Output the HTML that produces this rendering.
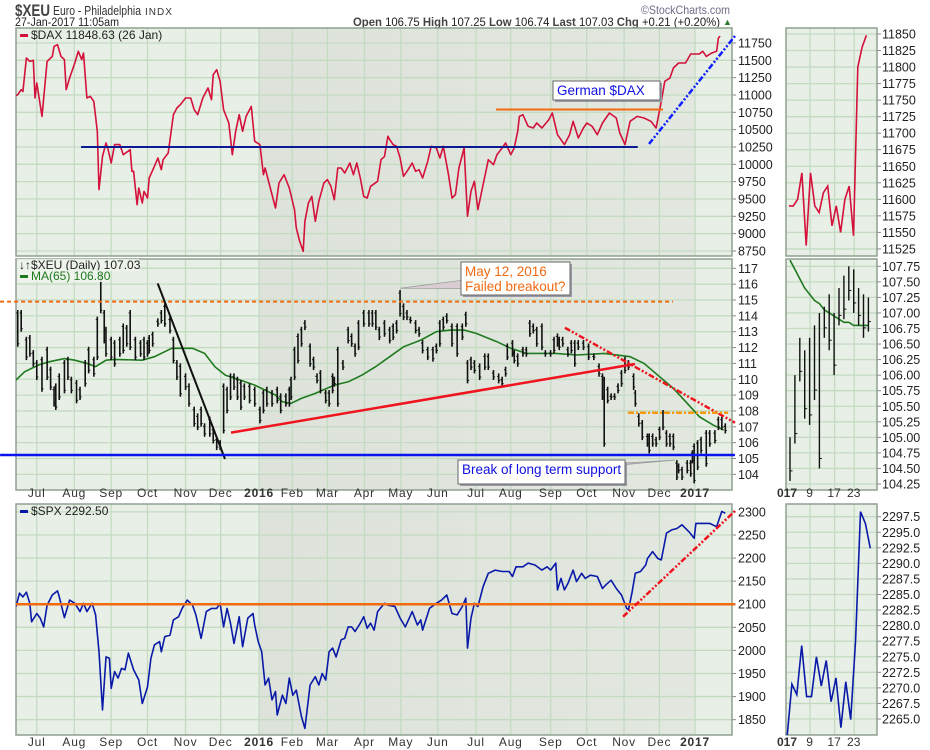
<!DOCTYPE html>
<html><head><meta charset="utf-8"><style>
html,body{margin:0;padding:0;background:#fff;}
svg{display:block;font-family:"Liberation Sans","DejaVu Sans",sans-serif;}
</style></head><body>
<svg id="chart" width="930" height="750" viewBox="0 0 930 750" xmlns="http://www.w3.org/2000/svg">
<defs>
<linearGradient id="shade2016" x1="0" x2="1" y1="0" y2="0"><stop offset="0" stop-color="#dde3db"/><stop offset="1" stop-color="#e2e8e0"/></linearGradient>
<clipPath id="clipTop"><rect x="16" y="28" width="716" height="228"/></clipPath>
<clipPath id="clipMid"><rect x="16" y="259" width="716" height="231"/></clipPath>
<clipPath id="clipBot"><rect x="16" y="504" width="716" height="231"/></clipPath>
<clipPath id="clipRTop"><rect x="786" y="28" width="91" height="228"/></clipPath>
<clipPath id="clipRMid"><rect x="786" y="259" width="91" height="231"/></clipPath>
<clipPath id="clipRBot"><rect x="786" y="504" width="91" height="231"/></clipPath>
</defs>
<g>
<text x="15" y="16" font-size="17" font-weight="bold" fill="#444" textLength="35" lengthAdjust="spacingAndGlyphs">$XEU</text>
<text x="53" y="15" font-size="12.5" fill="#333" textLength="88" lengthAdjust="spacingAndGlyphs">Euro - Philadelphia</text>
<text x="145" y="15" font-size="10" fill="#333" letter-spacing="1">INDX</text>
<text x="15" y="26" font-size="11.5" fill="#222" textLength="104" lengthAdjust="spacingAndGlyphs">27-Jan-2017 11:05am</text>
<text x="641" y="14" font-size="12" fill="#6f6f8a" textLength="89" lengthAdjust="spacingAndGlyphs">©StockCharts.com</text>
<text x="353" y="26" font-size="12" fill="#222" textLength="367" lengthAdjust="spacingAndGlyphs"><tspan font-weight="bold" fill="#444">Open</tspan> 106.75 <tspan font-weight="bold" fill="#444">High</tspan> 107.25 <tspan font-weight="bold" fill="#444">Low</tspan> 106.74 <tspan font-weight="bold" fill="#444">Last</tspan> 107.03 <tspan font-weight="bold" fill="#444">Chg</tspan> +0.21 (+0.20%)</text>
<text x="723" y="25" font-size="9" fill="#2a7a2a">▲</text>
</g>
<g id="layer"></g>
</svg>
<script>
// ---------- DATA ----------
const monthLabels = ["Jul","Aug","Sep","Oct","Nov","Dec","2016","Feb","Mar","Apr","May","Jun","Jul","Aug","Sep","Oct","Nov","Dec","2017"];
const monthDays = [12,33.7,55,76,98,118.3,140.5,159.7,180,201.4,222.4,243.8,265.9,286,309.1,329.9,351.5,371.9,392.5];

const daxTicks = [11750,11500,11250,11000,10750,10500,10250,10000,9750,9500,9250,9000,8750];
const xeuTicks = [117,116,115,114,113,112,111,110,109,108,107,106,105,104];
const spxTicks = [2300,2250,2200,2150,2100,2050,2000,1950,1900,1850];

const daxDay = [0,1,3,4,6,8,10,11,12,15,18,21,22,24,26,28,29,31,34,36,38,39,41,43,45,47,48,50,52,53,55,57,60,62,66,67,68,70,71,73,74,76,77,80,82,84,85,88,91,93,95,98,101,103,105,108,111,113,114,116,118,120,123,125,127,129,131,133,136,138,141,143,144,147,150,152,155,158,161,162,164,166,167,169,171,173,175,178,180,182,184,186,188,190,193,195,197,199,201,203,205,209,211,213,215,216,218,220,222,224,226,229,231,233,235,238,240,243,245,247,250,252,254,256,259,261,263,265,267,270,272,273,276,278,281,283,286,288,290,291,293,296,299,301,304,308,310,313,317,320,322,325,328,330,333,336,339,343,347,349,352,355,359,363,367,370,373,375,378,380,383,387,390,395,397,399,402,405,406,407];
const daxVal = [10990,11005,11077,11050,11533,11485,11500,10957,11173,10692,11485,11557,11702,11726,11557,11510,11077,11245,11461,11630,11510,11605,10957,10980,10908,10476,9635,10115,10308,10236,10019,10284,10284,10139,10211,9899,9899,9418,9659,9442,9610,9514,9803,9971,10091,9923,10067,10163,10716,10812,10860,10957,10957,10788,10716,10957,11101,10932,11293,11365,11197,10788,10596,10139,10476,10716,10476,10692,10836,10332,10284,9851,9947,9659,9370,9731,9851,9659,9346,9082,8889,8745,9178,9442,9538,9178,9466,9731,9779,9683,9490,9947,9947,9875,10019,9851,10019,9803,9538,9514,9683,9755,10067,10115,10404,10356,10284,10260,10091,9827,9899,10019,9899,9923,9803,10043,10260,10236,10091,10260,9851,9514,9562,9947,10236,9250,9611,9755,9346,9707,9947,10067,9995,10139,10236,10308,10139,10236,10476,10692,10716,10548,10524,10596,10524,10644,10740,10428,10284,10428,10620,10380,10524,10596,10548,10428,10596,10740,10668,10452,10284,10620,10692,10668,10620,10524,10908,11197,11245,11389,11461,11461,11591,11591,11630,11557,11605,11630,11822,11849];

const xeuDay = [1,3,6,8,10,12,15,18,20,22,23,25,28,30,32,35,37,40,42,45,47,49,51,52,55,57,60,62,64,66,69,72,74,76,77,79,82,84,86,89,91,93,95,98,100,103,105,107,109,112,114,116,118,120,122,124,126,128,130,132,135,138,141,143,145,148,151,153,156,158,159,161,163,165,167,170,172,174,176,179,181,183,184,186,189,192,194,196,198,201,204,206,208,210,213,216,218,220,222,224,226,228,231,233,235,238,241,243,245,247,249,252,255,258,260,261,263,265,268,271,273,276,279,281,283,284,287,288,290,293,295,297,299,301,304,306,309,311,313,314,316,319,321,323,325,328,331,334,337,339,340,342,344,346,348,350,352,354,357,358,360,362,365,366,368,370,372,374,376,378,380,382,383,385,388,390,391,392,394,396,399,401,404,406,408,410];
const xeuHigh = [114.37,114.37,112.68,112.79,111.84,111.21,111.42,112.05,110.79,109.53,109.74,110.37,111.21,111.42,110.16,109.95,109.53,111.21,112.05,111.42,113.95,116.78,114.37,113.31,112.68,112.47,112.68,113.52,113.42,114.37,112.68,112.47,112.68,112.47,112.79,113.00,113.84,114.37,114.79,113.95,112.68,111.21,111.00,110.37,109.74,108.27,107.85,108.27,107.22,107.64,107.01,106.37,106.16,109.74,109.53,110.37,110.37,110.16,109.95,109.74,109.74,109.53,108.27,109.32,109.53,109.32,109.53,109.11,109.11,109.53,110.16,112.05,112.89,113.31,113.73,112.26,111.42,110.37,110.58,109.32,109.32,110.37,110.16,112.05,111.21,113.31,112.89,112.26,113.73,114.37,114.37,114.37,114.37,113.31,113.73,113.31,113.52,113.73,115.63,114.79,114.37,113.95,113.73,113.31,112.47,112.05,112.05,112.26,113.73,113.95,114.16,113.52,113.52,113.52,114.26,111.21,111.42,111.21,111.00,111.63,111.63,110.58,110.37,110.16,110.79,112.26,112.47,111.84,111.63,112.05,112.05,113.73,113.52,113.31,113.52,111.84,111.84,112.68,112.89,112.68,112.68,112.05,112.47,112.47,112.47,112.47,112.26,111.63,111.00,110.37,110.16,109.53,109.11,109.11,109.74,110.58,111.42,111.21,110.37,109.32,107.85,107.43,106.58,106.58,106.58,106.37,107.01,108.06,106.79,106.58,106.58,104.90,104.69,104.48,104.90,104.90,105.53,105.95,106.16,106.37,106.79,106.79,106.79,107.64,107.64,107.22];
const xeuLow = [112.05,113.00,111.21,111.42,110.79,109.95,109.21,109.95,109.32,108.27,108.06,108.69,109.11,109.95,109.11,108.48,108.69,109.53,110.37,110.16,111.21,114.16,112.26,111.42,111.21,110.79,111.42,111.63,112.05,111.84,111.21,111.42,111.21,111.42,111.63,112.05,113.31,113.52,113.31,112.89,111.00,109.95,108.90,109.32,108.27,107.01,106.79,107.01,106.37,106.37,105.95,105.53,105.53,106.58,107.85,108.69,109.32,108.69,108.06,108.69,108.48,108.27,107.22,107.85,108.27,108.27,108.48,107.85,108.27,108.27,108.69,109.95,111.00,112.05,113.10,110.79,110.58,109.74,109.11,108.48,108.27,109.11,109.53,108.27,110.58,112.26,112.05,111.42,111.84,113.31,113.31,113.31,113.10,112.47,112.68,112.26,112.47,112.89,113.95,113.73,113.73,113.52,112.89,112.68,111.63,111.21,111.11,111.63,112.05,113.10,113.52,112.05,111.42,112.47,113.31,109.74,110.58,110.37,109.95,110.58,110.58,109.95,109.74,109.53,110.16,111.21,111.42,111.00,110.79,111.42,111.42,112.68,112.89,112.05,111.84,111.42,111.42,111.63,112.05,111.84,112.05,111.42,111.63,110.79,111.84,111.84,111.21,111.21,110.16,108.69,105.74,108.48,108.69,108.69,109.11,109.53,110.37,110.58,109.32,108.27,107.01,106.16,105.74,105.32,105.74,105.74,106.16,106.79,105.74,105.74,105.53,103.64,104.06,103.64,104.06,103.85,104.69,103.43,104.27,105.32,104.48,105.74,105.95,106.79,106.79,106.58];

const maDay = [0,5,13,19,28,34,41,46,52,57,73,80,86,90,102,109,115,121,127,138,150,154,159,165,173,184,192,200,208,216,224,234,243,251,259,266,278,286,295,312,324,340,355,363,372,380,388,395,403,409];
const maVal = [109.95,110.47,110.9,111.1,111.3,111.2,111.0,110.8,111.2,111.25,111.2,111.42,111.74,111.95,111.95,111.63,110.79,110.26,110.05,109.63,109.0,108.58,108.48,108.79,109.11,109.63,109.84,110.26,110.8,111.42,112.05,112.47,113.0,113.1,113.1,112.89,112.37,111.95,111.63,111.63,111.53,111.63,111.42,111.0,110.16,109.42,108.48,107.64,107.11,106.8];

const spxDay = [0,2,4,6,8,9,12,14,16,18,21,24,25,28,31,34,37,39,41,44,46,48,50,52,54,55,57,59,61,63,65,68,71,73,76,78,80,83,84,86,89,91,94,96,99,102,104,107,110,113,116,118,120,122,124,126,129,131,134,137,138,140,142,144,146,148,150,151,154,156,158,160,162,165,167,170,173,175,177,179,181,183,185,188,190,192,194,196,199,201,203,205,207,209,213,215,219,222,225,229,232,234,235,239,243,246,249,252,255,258,260,261,263,265,267,270,273,277,281,285,287,289,293,296,300,304,307,309,312,313,315,317,319,322,324,327,329,332,336,339,341,344,347,350,353,354,356,358,361,364,365,368,371,373,376,379,382,385,389,392,393,397,401,405,408,410];
const spxVal = [2095,2124,2116,2126,2102,2062,2080,2070,2051,2098,2120,2129,2116,2071,2109,2102,2084,2102,2084,2102,2077,1997,1871,1986,1983,1918,1954,1940,1961,1958,1994,1958,1936,1885,1921,1983,2012,2019,1997,2030,2033,2066,2073,2091,2109,2098,2077,2026,2084,2091,2091,2102,2051,2091,2059,2015,2073,2008,2070,2080,2055,2019,1997,1925,1940,1893,1911,1860,1903,1885,1940,1903,1914,1857,1831,1925,1943,1925,1950,1936,1997,2005,1986,2023,2026,2051,2051,2041,2059,2073,2048,2059,2044,2084,2102,2098,2095,2070,2051,2084,2055,2066,2044,2091,2102,2109,2120,2080,2077,2095,2113,2005,2070,2102,2095,2138,2167,2174,2171,2171,2160,2181,2181,2189,2185,2174,2181,2174,2189,2131,2156,2131,2145,2174,2149,2167,2156,2163,2160,2134,2142,2152,2134,2120,2091,2088,2124,2167,2171,2185,2199,2214,2199,2196,2254,2261,2264,2272,2257,2243,2275,2275,2275,2268,2301,2297];

// right-side (January 2017 zoom) panels
const janLabels = ["017","9","17","23"];
const janLabelIdx = [0,4,9,13];
const rDaxTicks = [11850,11825,11800,11775,11750,11725,11700,11675,11650,11625,11600,11575,11550,11525];
const rXeuTicks = [107.75,107.5,107.25,107,106.75,106.5,106.25,106,105.75,105.5,105.25,105,104.75,104.5,104.25];
const rSpxTicks = [2297.5,2295,2292.5,2290,2287.5,2285,2282.5,2280,2277.5,2275,2272.5,2270,2267.5,2265];
const rDaxVal = [11590,11590,11600,11640,11530,11640,11590,11580,11610,11620,11560,11590,11550,11600,11620,11545,11800,11830,11848];
const rXeuHigh = [105.0,106.0,106.6,106.4,106.6,106.8,107.0,107.1,107.3,107.0,107.4,107.6,107.75,107.7,107.4,107.3,107.25];
const rXeuLow = [104.3,104.9,105.9,105.3,105.2,105.6,104.5,106.6,106.4,106.0,106.8,106.9,107.2,107.0,106.8,106.6,106.7];
const rMaVal = [107.85,107.7,107.55,107.4,107.3,107.2,107.15,107.05,107.0,106.95,106.9,106.85,106.85,106.8,106.8,106.8,106.8];
const rSpxVal = [2262,2270.6,2268.9,2276.8,2268.6,2268.6,2275.0,2270.3,2274.4,2267.8,2271.6,2263.6,2271.0,2264.9,2277.7,2298.3,2296.4,2292.4];

// annotations in data coordinates [day, value]
const daxSupport = [[37.6,10250],[359.4,10250]];
const daxResist = [[277.5,10790],[374,10790]];
const daxTrend = [[365.9,10294],[415.6,11851]];
const xeuBreakoutLevel = [[-9.2,114.9],[379.8,114.9]];
const xeuDownTrend = [[81.9,116.05],[120.8,104.97]];
const xeuUpTrend = [[124.3,106.63],[357.8,110.96]];
const xeuRecentTrend = [[317.3,113.25],[415.6,107.26]];
const xeuResist = [[353.8,107.89],[411.6,107.89]];
const xeuSupport = [[-9.2,105.22],[415.6,105.22]];
const spxLevel = [[0,2100],[415.6,2100]];
const spxTrend = [[350.9,2073],[415.6,2302]];

// ---------- SCALES ----------
const X0 = 16, X1 = 732;
const xDay = d => X0 + d * 1.73;
const yDax = v => 43 + (11750 - v) * 0.06933;
const yXeu = v => 268.3 + (117 - v) * 15.85;
const ySpx = v => 511.9 + (2300 - v) * 0.4617;
const xRD = i => 789 + i * 4.3;
const xRX = i => 790 + i * 4.9;
const xRS = i => 787 + i * 4.9;
const yRDax = v => 34 + (11850 - v) * 0.6613;
const yRXeu = v => 390.7 + (105.75 - v) * 62.2;
const yRSpx = v => 516.7 + (2297.5 - v) * 6.225;

const NS = "http://www.w3.org/2000/svg";
const layer = document.getElementById("layer");
function mk(tag, attrs, parent) {
  const el = document.createElementNS(NS, tag);
  for (const k in attrs) el.setAttribute(k, attrs[k]);
  (parent || layer).appendChild(el);
  return el;
}

// ---------- PANELS ----------
const panels = [
  {name:"dax-panel", y:28, h:228, ticks:daxTicks, ys:yDax, fmt:v=>String(v)},
  {name:"xeu-panel", y:259, h:231, ticks:xeuTicks, ys:yXeu, fmt:v=>String(v)},
  {name:"spx-panel", y:504, h:231, ticks:spxTicks, ys:ySpx, fmt:v=>String(v)}
];
panels.forEach(p => {
  const g = mk("g", {});
  
  
  mk("rect", {x:X0, y:p.y, width:X1-X0, height:p.h, fill:"#e8efe6"}, g);
  mk("rect", {x:xDay(140.5), y:p.y, width:xDay(392.5)-xDay(140.5), height:p.h, fill:"url(#shade2016)"}, g);
  monthDays.forEach(d => mk("line", {x1:xDay(d), x2:xDay(d), y1:p.y, y2:p.y+p.h, stroke:"#c4dbc2", "stroke-width":1.3}, g));
  p.ticks.forEach(t => {
    const y = p.ys(t);
    mk("line", {x1:X0, x2:X1, y1:y, y2:y, stroke:"#c4dbc2", "stroke-width":1.3}, g);
    mk("line", {x1:X1, x2:X1+4, y1:y, y2:y, stroke:"#888", "stroke-width":1}, g);
    const tx = mk("text", {x:X1+6, y:y+4.5, "font-size":12.5, fill:"#222"}, g);
    
    
    tx.textContent = p.fmt(t);
  });
  mk("rect", {x:X0, y:p.y, width:X1-X0, height:p.h, fill:"none", stroke:"#8fa08f", "stroke-width":1.5}, g);
});

// right panels
const rpanels = [
  {name:"dax-jan-panel", y:28, h:228, ticks:rDaxTicks, ys:yRDax, fmt:v=>String(v)},
  {name:"xeu-jan-panel", y:259, h:231, ticks:rXeuTicks, ys:yRXeu, fmt:v=>v.toFixed(2)},
  {name:"spx-jan-panel", y:504, h:231, ticks:rSpxTicks, ys:yRSpx, fmt:v=>v.toFixed(1)}
];
const RX0 = 786, RX1 = 877;
rpanels.forEach(p => {
  const g = mk("g", {});
  
  
  mk("rect", {x:RX0, y:p.y, width:RX1-RX0, height:p.h, fill:"#e8efe6"}, g);
  janLabelIdx.slice(1).forEach(i => mk("line", {x1:xRX(i)+0.5, x2:xRX(i)+0.5, y1:p.y, y2:p.y+p.h, stroke:"#c4dbc2", "stroke-width":1.3}, g));
  p.ticks.forEach(t => {
    const y = p.ys(t);
    mk("line", {x1:RX0, x2:RX1, y1:y, y2:y, stroke:"#c4dbc2", "stroke-width":1.3}, g);
    mk("line", {x1:RX1, x2:RX1+4, y1:y, y2:y, stroke:"#888"}, g);
    const tx = mk("text", {x:RX1+5, y:y+4.5, "font-size":12.5, fill:"#222"}, g);
    
    
    tx.textContent = p.fmt(t);
  });
  mk("rect", {x:RX0, y:p.y, width:RX1-RX0, height:p.h, fill:"none", stroke:"#8fa08f", "stroke-width":1.5}, g);
});

// x-axis labels
[497, 746].forEach(yy => {
  monthLabels.forEach((m, i) => {
    const t = mk("text", {x:xDay(monthDays[i]), y:yy, "font-size":12, "text-anchor":"middle", fill:"#333", "letter-spacing":"0.8", "font-weight": m.length===4 ? "bold" : "normal"});
    
    
    t.textContent = m;
  });
  janLabels.forEach((m, i) => {
    const t = mk("text", {x:i===0 ? 777 : xRX(janLabelIdx[i]), y:yy, "font-size":12, "text-anchor": i===0 ? "start" : "middle", fill:"#333", "font-weight": i===0 ? "bold" : "normal"});
    
    
    t.textContent = m;
  });
});

// ---------- SERIES ----------
function pathFrom(days, vals, xs, ys) {
  return days.map((d, i) => (i ? "L" : "M") + xs(d).toFixed(1) + "," + ys(vals[i]).toFixed(1)).join("");
}
const gTop = mk("g", {"clip-path":"url(#clipTop)"});
const daxLine = mk("path", {d:pathFrom(daxDay, daxVal, xDay, yDax), fill:"none", stroke:"#d4113a", "stroke-width":1.6, "stroke-linejoin":"round"}, gTop);



const gMid = mk("g", {"clip-path":"url(#clipMid)"});
const maLine = mk("path", {d:pathFrom(maDay, maVal, xDay, yXeu), fill:"none", stroke:"#1f7a1f", "stroke-width":1.6}, gMid);


xeuDay.forEach((d, i) => {
  const x = xDay(d);
  const b = mk("line", {x1:x, x2:x, y1:yXeu(xeuHigh[i]), y2:yXeu(xeuLow[i]), stroke:"#111", "stroke-width":1.6}, gMid);
  
  
  mk("line", {x1:x-1.6, x2:x, y1:yXeu(xeuHigh[i])+3, y2:yXeu(xeuHigh[i])+3, stroke:"#111", "stroke-width":1}, gMid);
  mk("line", {x1:x, x2:x+1.6, y1:yXeu(xeuLow[i])-3, y2:yXeu(xeuLow[i])-3, stroke:"#111", "stroke-width":1}, gMid);
});

const gBot = mk("g", {"clip-path":"url(#clipBot)"});
const spxLine = mk("path", {d:pathFrom(spxDay, spxVal, xDay, ySpx), fill:"none", stroke:"#0a1aa8", "stroke-width":1.6, "stroke-linejoin":"round"}, gBot);



// right panel series
const idx = a => a.map((_, i) => i);
const gRT = mk("g", {"clip-path":"url(#clipRTop)"});
const rdl = mk("path", {d:pathFrom(idx(rDaxVal), rDaxVal, xRD, yRDax), fill:"none", stroke:"#d4113a", "stroke-width":1.6}, gRT);


const gRM = mk("g", {"clip-path":"url(#clipRMid)"});
const rml = mk("path", {d:pathFrom(idx(rMaVal), rMaVal, xRX, yRXeu), fill:"none", stroke:"#1f7a1f", "stroke-width":1.6}, gRM);


rXeuHigh.forEach((h, i) => {
  const x = xRX(i);
  const b = mk("line", {x1:x, x2:x, y1:yRXeu(h), y2:yRXeu(rXeuLow[i]), stroke:"#111", "stroke-width":1.4}, gRM);
  
  
  mk("line", {x1:x, x2:x+2.5, y1:yRXeu(rXeuLow[i])-10, y2:yRXeu(rXeuLow[i])-10, stroke:"#111", "stroke-width":1}, gRM);
});
const gRB = mk("g", {"clip-path":"url(#clipRBot)"});
const rsl = mk("path", {d:pathFrom(idx(rSpxVal), rSpxVal, xRS, yRSpx), fill:"none", stroke:"#0a1aa8", "stroke-width":1.6}, gRB);



// ---------- ANNOTATIONS ----------
function seg(pts, ys, attrs, name) {
  const l = mk("line", Object.assign({x1:xDay(pts[0][0]), y1:ys(pts[0][1]), x2:xDay(pts[1][0]), y2:ys(pts[1][1])}, attrs));
  
  
}
seg(daxSupport, yDax, {stroke:"#0a1a90", "stroke-width":2}, "dax-support-line");
seg(daxResist, yDax, {stroke:"#f26a10", "stroke-width":2}, "dax-resistance-line");
seg(daxTrend, yDax, {stroke:"#1020ff", "stroke-width":2.5, "stroke-dasharray":"6,2,2,2,2,2"}, "dax-trend-line");
seg(xeuBreakoutLevel, yXeu, {stroke:"#f26a10", "stroke-width":2, "stroke-dasharray":"4,3"}, "xeu-breakout-level");
seg(xeuDownTrend, yXeu, {stroke:"#111", "stroke-width":2}, "xeu-downtrend-line");
seg(xeuUpTrend, yXeu, {stroke:"#f0141e", "stroke-width":2.5}, "xeu-uptrend-line");
seg(xeuRecentTrend, yXeu, {stroke:"#f0141e", "stroke-width":2.5, "stroke-dasharray":"6,2,2,2,2,2"}, "xeu-recent-trend-line");
seg(xeuResist, yXeu, {stroke:"#f59a10", "stroke-width":2.5, "stroke-dasharray":"6,2,2,2"}, "xeu-resistance-line");
seg(xeuSupport, yXeu, {stroke:"#0a14f0", "stroke-width":2.5}, "xeu-support-line");
seg(spxLevel, ySpx, {stroke:"#f26a10", "stroke-width":2.5}, "spx-level-line");
seg(spxTrend, ySpx, {stroke:"#f0141e", "stroke-width":2.5, "stroke-dasharray":"6,2,2,2,2,2"}, "spx-trend-line");

// callouts
function callout(name, bx, by, bw, bh, ax, ay, lines, color) {
  const g = mk("g", {});
  
  
  if (ax !== null) mk("polygon", {points:`${bx+2},${by+bh*0.55} ${bx+2},${by+bh*0.8} ${ax},${ay}`, fill:"#d9ccd2", stroke:"#999", "stroke-width":0.8}, g);
  mk("rect", {x:bx+2, y:by+2, width:bw, height:bh, fill:"#9a9aa6"}, g);
  mk("rect", {x:bx, y:by, width:bw, height:bh, fill:"#fff", stroke:"#666", "stroke-width":1}, g);
  lines.forEach((t, i) => {
    const tx = mk("text", {x:bx+4, y:by+14 + i*15, "font-size":13.5, fill:color}, g);
    tx.textContent = t;
  });
}
callout("german-dax-label", 553, 81, 107, 19, null, null, ["German $DAX"], "#1010e0");
callout("failed-breakout-callout", 461, 262, 109, 33, xDay(222), yXeu(115.74), ["May 12, 2016", "Failed breakout?"], "#f26a10");
callout("support-break-callout", 458, 460, 167, 24, xDay(380.9), yXeu(104.9), ["Break of long term support"], "#1010e0");

// legends
function legend(name, x, y, text, color, dash, bg) {
  const g = mk("g", {});
  
  
  if (bg) mk("rect", {x:x-2, y:y-10, width:bg, height:12, fill:"#eef3ec", opacity:0.85}, g);
  if (dash) mk("rect", {x:x, y:y-5, width:8, height:3, fill:color}, g);
  const t = mk("text", {x:x + (dash ? 11 : 0), y:y, "font-size":12, fill:color==="#d4113a"||color==="#0a1aa8" ? "#222" : color}, g);
  t.textContent = text;
}
legend("dax-legend", 20, 39, "$DAX 11848.63 (26 Jan)", "#d4113a", true, 0);
legend("xeu-legend", 19, 269, "↓↑$XEU (Daily) 107.03", "#222", false, 122);
legend("ma-legend", 20, 280, "MA(65) 106.80", "#1f7a1f", true, 92);
legend("spx-legend", 20, 515, "$SPX 2292.50", "#0a1aa8", true, 0);
</script>
</body></html>
